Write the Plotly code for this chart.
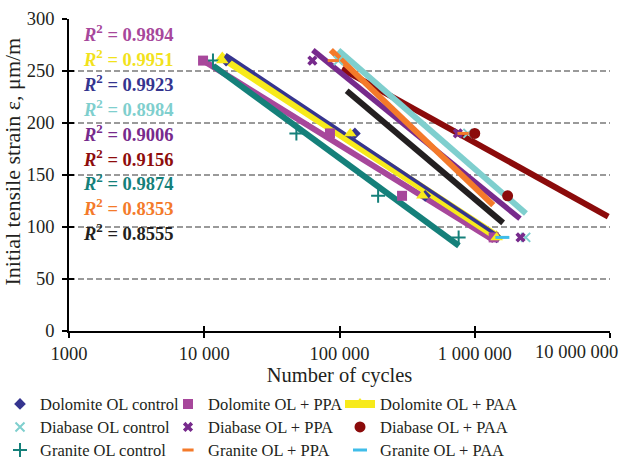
import plotly.graph_objects as go

FONT = "Liberation Serif, Times New Roman, serif"
TXT = "#231f20"

# ---------------- data ----------------
# measured points: cycles to failure vs. initial tensile strain
dolo_ctrl_cycles = [14500, 130000, 430000, 1450000]
dolo_ctrl_strain = [260, 190, 130, 90]
dolo_ppa_cycles = [9800, 85000, 290000, 1380000]
dolo_ppa_strain = [260, 190, 130, 90]
dolo_paa_cycles = [13600, 120000, 410000, 1450000]
dolo_paa_strain = [260, 190, 130, 90]
diab_ctrl_cycles = [98000, 890000, 2380000]
diab_ctrl_strain = [260, 190, 90]
diab_ppa_cycles = [63000, 750000, 2180000]
diab_ppa_strain = [260, 190, 90]
diab_paa_cycles = [1000000, 1750000]
diab_paa_strain = [190, 130]
gran_ctrl_cycles = [11600, 48000, 193000, 760000]
gran_ctrl_strain = [260, 190, 130, 90]
gran_ppa_cycles = [90000, 820000]
gran_ppa_strain = [260, 190]
gran_paa_cycles = [1600000]
gran_paa_strain = [90]

# logarithmic trend lines (end points)
dolo_ctrl_trend_cycles = [14400, 1460000]
dolo_ctrl_trend_strain = [266, 92]
dolo_ppa_trend_cycles = [9840, 1390000]
dolo_ppa_trend_strain = [260, 87]
dolo_paa_trend_cycles = [13600, 1450000]
dolo_paa_trend_strain = [263, 91]
diab_ctrl_trend_cycles = [98000, 2390000]
diab_ctrl_trend_strain = [270, 113]
diab_ppa_trend_cycles = [63500, 2160000]
diab_ppa_trend_strain = [270, 108]
diab_paa_trend_cycles = [104000, 9700000]
diab_paa_trend_strain = [252, 110]
gran_ctrl_trend_cycles = [11700, 764000]
gran_ctrl_trend_strain = [255, 82]
gran_ppa_trend_cycles = [86300, 1370000]
gran_ppa_trend_strain = [270, 121]
gran_paa_trend_cycles = [113000, 1620000]
gran_paa_trend_strain = [231, 104]

r2_values = [0.9894, 0.9951, 0.9923, 0.8984, 0.9006, 0.9156, 0.9874, 0.8353, 0.8555]
r2_colors = ["#a7479b", "#f2e21b", "#35348f", "#7fcfce", "#772a8c",
             "#8e0c0c", "#15807a", "#f47a2a", "#231f20"]

x_tickvals = [1000, 10000, 100000, 1000000, 10000000]
x_ticktext = ["1000", "10 000", "100 000", "1 000 000", "10 000 000"]
y_tickvals = [0, 50, 100, 150, 200, 250, 300]

# ---------------- colours ----------------
C_NAVY = "#35348f"
C_MAG = "#a7479b"
C_YEL = "#f7ea1b"
C_CYAN = "#7fcfce"
C_PUR = "#772a8c"
C_DRED = "#8b0b0b"
C_TEAL = "#15807a"
C_ORA = "#f47a2a"
C_BLK = "#231f20"
C_LBLUE = "#40bde9"

fig = go.Figure()


def trend(xs, ys, color, width):
    fig.add_trace(go.Scatter(x=xs, y=ys, mode="lines", showlegend=False,
                             line=dict(color=color, width=width),
                             hoverinfo="skip"))


# trend lines
trend(dolo_ppa_trend_cycles, dolo_ppa_trend_strain, C_MAG, 6)
fig.add_trace(go.Scatter(x=dolo_paa_trend_cycles, y=dolo_paa_trend_strain,
                         mode="lines+markers", name="Dolomite OL + PAA",
                         legend="legend7",
                         line=dict(color=C_YEL, width=8),
                         marker=dict(symbol="triangle-up", size=12, color=C_YEL)))
trend(dolo_ctrl_trend_cycles, dolo_ctrl_trend_strain, C_NAVY, 3.5)
trend(gran_ctrl_trend_cycles, gran_ctrl_trend_strain, C_TEAL, 6)
trend(diab_paa_trend_cycles, diab_paa_trend_strain, C_DRED, 6)
trend(diab_ctrl_trend_cycles, diab_ctrl_trend_strain, C_CYAN, 6)
trend(diab_ppa_trend_cycles, diab_ppa_trend_strain, C_PUR, 5.5)
trend(gran_ppa_trend_cycles, gran_ppa_trend_strain, C_ORA, 6)
trend(gran_paa_trend_cycles, gran_paa_trend_strain, C_BLK, 6)


def pts(xs, ys, name, legend, color, symbol, size, lw=0, show=True):
    fig.add_trace(go.Scatter(
        x=xs, y=ys, mode="markers", name=name, legend=legend, showlegend=show,
        marker=dict(symbol=symbol, size=size, color=color,
                    line=dict(color=color, width=lw))))


# measured points; one legend per entry (3 columns x 3 rows)
pts(dolo_ctrl_cycles, dolo_ctrl_strain, "Dolomite OL control", "legend", C_NAVY, "diamond", 9)
pts(diab_ctrl_cycles, diab_ctrl_strain, "Diabase OL control", "legend2", C_CYAN, "x-thin-open", 9, 2)
pts(gran_ctrl_cycles, gran_ctrl_strain, "Granite OL control", "legend3", C_TEAL, "cross-thin-open", 10, 2)
pts(dolo_ppa_cycles, dolo_ppa_strain, "Dolomite OL + PPA", "legend4", C_MAG, "square", 10)
pts(diab_ppa_cycles, diab_ppa_strain, "Diabase OL + PPA", "legend5", C_PUR, "x", 9)
pts(gran_ppa_cycles, gran_ppa_strain, "Granite OL + PPA", "legend6", C_ORA, "line-ew-open", 8, 3)
pts(dolo_paa_cycles, dolo_paa_strain, "Dolomite OL + PAA", "legend7", C_YEL, "triangle-up", 11, 0, False)
pts(diab_paa_cycles, diab_paa_strain, "Diabase OL + PAA", "legend8", C_DRED, "circle", 11)
pts(gran_paa_cycles, gran_paa_strain, "Granite OL + PAA", "legend9", C_LBLUE, "line-ew-open", 10, 3)

# invisible trace carrying the overlay axes (inner half of the crossing ticks)
fig.add_trace(go.Scatter(x=[1000], y=[0], xaxis="x2", yaxis="y2", mode="markers",
                         marker=dict(opacity=0), showlegend=False, hoverinfo="skip"))

# R² labels
for i, (r2, col) in enumerate(zip(r2_values, r2_colors)):
    ypix = 33 + 24.9 * i
    fig.add_annotation(xref="paper", yref="paper", x=0.022, y=(331 - ypix) / 312,
                       xanchor="left", yanchor="middle", showarrow=False,
                       text=f"<b><i>R</i><sup>2</sup> = {r2:.4f}</b>",
                       font=dict(family=FONT, size=18.5, color=col))

tick_font = dict(family=FONT, size=18.5, color=TXT)
leg_font = dict(family=FONT, size=16.5, color=TXT)

# y-axis title
fig.add_annotation(xref="paper", yref="paper", x=-57 / 541, y=(331 - 161.5) / 312,
                   xanchor="center", yanchor="middle", showarrow=False, textangle=-90,
                   text="Initial tensile strain ε, μm/m",
                   font=dict(family=FONT, size=22, color=TXT))

# last x tick label: kept inside the page, right-aligned as in the original
fig.add_annotation(xref="paper", yref="paper", x=1 + 10 / 541, y=(331 - 352) / 312,
                   xanchor="right", yanchor="middle", showarrow=False,
                   text=x_ticktext[-1], font=tick_font)
x_ticktext_axis = x_ticktext[:-1] + [""]

legends = {}
col_left = [0, 168, 340]
row_mid = [405, 428, 451]
for k in range(9):
    c, r = divmod(k, 3)
    key = "legend" if k == 0 else f"legend{k + 1}"
    legends[key] = dict(xref="container", yref="container", xanchor="left",
                        yanchor="top", x=col_left[c] / 622,
                        y=1 - (row_mid[r] - 18.3) / 462,
                        orientation="v", bgcolor="rgba(0,0,0,0)", font=leg_font,
                        itemsizing="trace")

fig.update_layout(
    width=622, height=462,
    margin=dict(l=69, r=12, t=19, b=131, autoexpand=False),
    paper_bgcolor="white", plot_bgcolor="white",
    font=dict(family=FONT, color=TXT),
    xaxis=dict(type="log", range=[3, 7], tickvals=x_tickvals, ticktext=x_ticktext_axis,
               ticks="outside", ticklen=5, tickwidth=1.5, tickcolor="black",
               showline=True, linecolor="black", linewidth=1.5, automargin=False,
               showgrid=False, zeroline=False, tickfont=tick_font,
               title=dict(text="Number of cycles", font=dict(family=FONT, size=20.5, color=TXT),
                          standoff=0)),
    yaxis=dict(range=[0, 300], tickvals=y_tickvals, automargin=False,
               ticks="outside", ticklen=5, tickwidth=1.5, tickcolor="black",
               ticklabelstandoff=4,
               showline=True, linecolor="black", linewidth=1.5,
               showgrid=True, gridcolor="#9a9a9a", gridwidth=1.5, griddash="6px,3px",
               zeroline=False, tickfont=tick_font),
    xaxis2=dict(type="log", range=[3, 7], overlaying="x", anchor="y2", side="bottom",
                tickvals=x_tickvals, ticks="inside", ticklen=5, tickwidth=1.5,
                tickcolor="black", showticklabels=False, showgrid=False,
                showline=False, zeroline=False),
    yaxis2=dict(range=[0, 300], overlaying="y", anchor="x2", side="left",
                tickvals=y_tickvals, ticks="inside", ticklen=5, tickwidth=1.5,
                tickcolor="black", showticklabels=False, showgrid=False,
                showline=False, zeroline=False),
    showlegend=True,
    **legends,
)

fig.write_html("out.html")
